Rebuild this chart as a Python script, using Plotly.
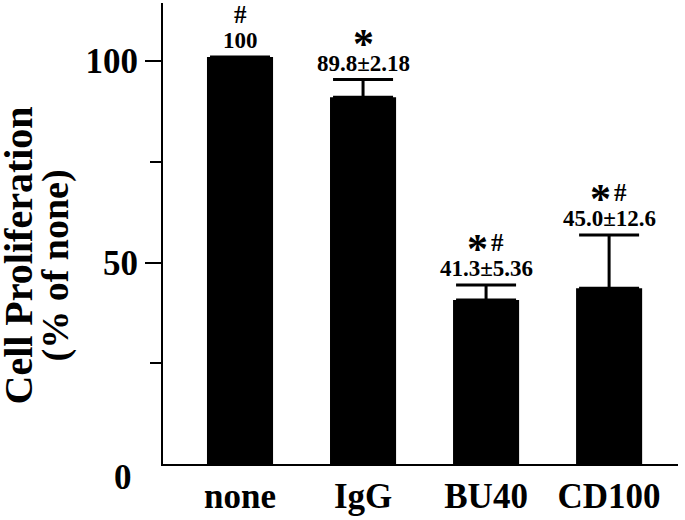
import plotly.graph_objects as go

# data
groups = ["none", "IgG", "BU40", "CD100"]
bar_heights = [101.0, 91.0, 40.7, 43.6]
error_up = [0, 4.4, 3.7, 13.2]
value_labels = ["100", "89.8±2.18", "41.3±5.36", "45.0±12.6"]
star_marks = ["", "*", "*", "*"]
hash_marks = ["#", "", "#", "#"]

FONT = "Liberation Serif"

fig = go.Figure()

fig.add_trace(go.Bar(
    x=list(range(len(groups))), y=bar_heights, width=0.537,
    marker=dict(color="black", line=dict(width=0)),
    error_y=dict(type="data", array=error_up, arrayminus=[0]*4, symmetric=False,
                 color="black", thickness=3, width=30),
    showlegend=False))

for i in range(len(groups)):
    top = bar_heights[i] + error_up[i]
    fig.add_annotation(x=i, y=top, text=value_labels[i], showarrow=False,
                       yanchor="bottom", yshift=2,
                       font=dict(family=FONT, size=23, color="black", weight="bold"))
    both = star_marks[i] and hash_marks[i]
    if star_marks[i]:
        fig.add_annotation(x=i, y=top, text=star_marks[i], showarrow=False,
                           yanchor="bottom", yshift=11, xshift=-9 if both else 0,
                           font=dict(family=FONT, size=42, color="black", weight="bold"))
    if hash_marks[i]:
        fig.add_annotation(x=i, y=top, text=hash_marks[i], showarrow=False,
                           yanchor="bottom", yshift=27, xshift=11 if both else 0,
                           font=dict(family=FONT, size=25, color="black", weight="bold"))

# "0" sits a bit lower than its tick in the original
fig.add_annotation(x=0, xref="paper", y=0, text="0", showarrow=False,
                   xanchor="right", xshift=-29, yshift=-13,
                   font=dict(family=FONT, size=35, color="black", weight="bold"))

# two-line rotated y title
fig.add_annotation(x=0, xref="paper", y=0.5, yref="paper", text="Cell Proliferation",
                   textangle=-90, showarrow=False, xanchor="center", xshift=-145, yshift=-22,
                   font=dict(family=FONT, size=40, color="black", weight="bold"))
fig.add_annotation(x=0, xref="paper", y=0.5, yref="paper", text="(% of none)",
                   textangle=-90, showarrow=False, xanchor="center", xshift=-108, yshift=-32,
                   font=dict(family=FONT, size=38, color="black", weight="bold"))

fig.update_layout(
    width=685, height=520,
    margin=dict(l=163, r=7, t=3, b=56),
    plot_bgcolor="white", paper_bgcolor="white",
    font=dict(family=FONT, color="black"),
    xaxis=dict(range=[-0.626, 3.56], tickvals=list(range(len(groups))), ticktext=groups,
               showline=True, linecolor="black", linewidth=2, ticks="",
               showgrid=False, zeroline=False, automargin=False,
               tickfont=dict(family=FONT, size=35, color="black", weight="bold")),
    yaxis=dict(range=[0, 114.4], tickvals=[50, 100], ticks="outside", ticklen=16,
               tickwidth=2, tickcolor="black", automargin=False,
               minor=dict(tickvals=[25, 75], ticks="outside", ticklen=11, tickwidth=2,
                          tickcolor="black", showgrid=False),
               showline=True, linecolor="black", linewidth=2,
               showgrid=False, zeroline=False,
               tickfont=dict(family=FONT, size=35, color="black", weight="bold")),
)

# the page's default body margin would push the figure 8px down and right
fig.write_html("out.html", config={"displayModeBar": False},
               post_script="document.body.style.margin='0px';")
